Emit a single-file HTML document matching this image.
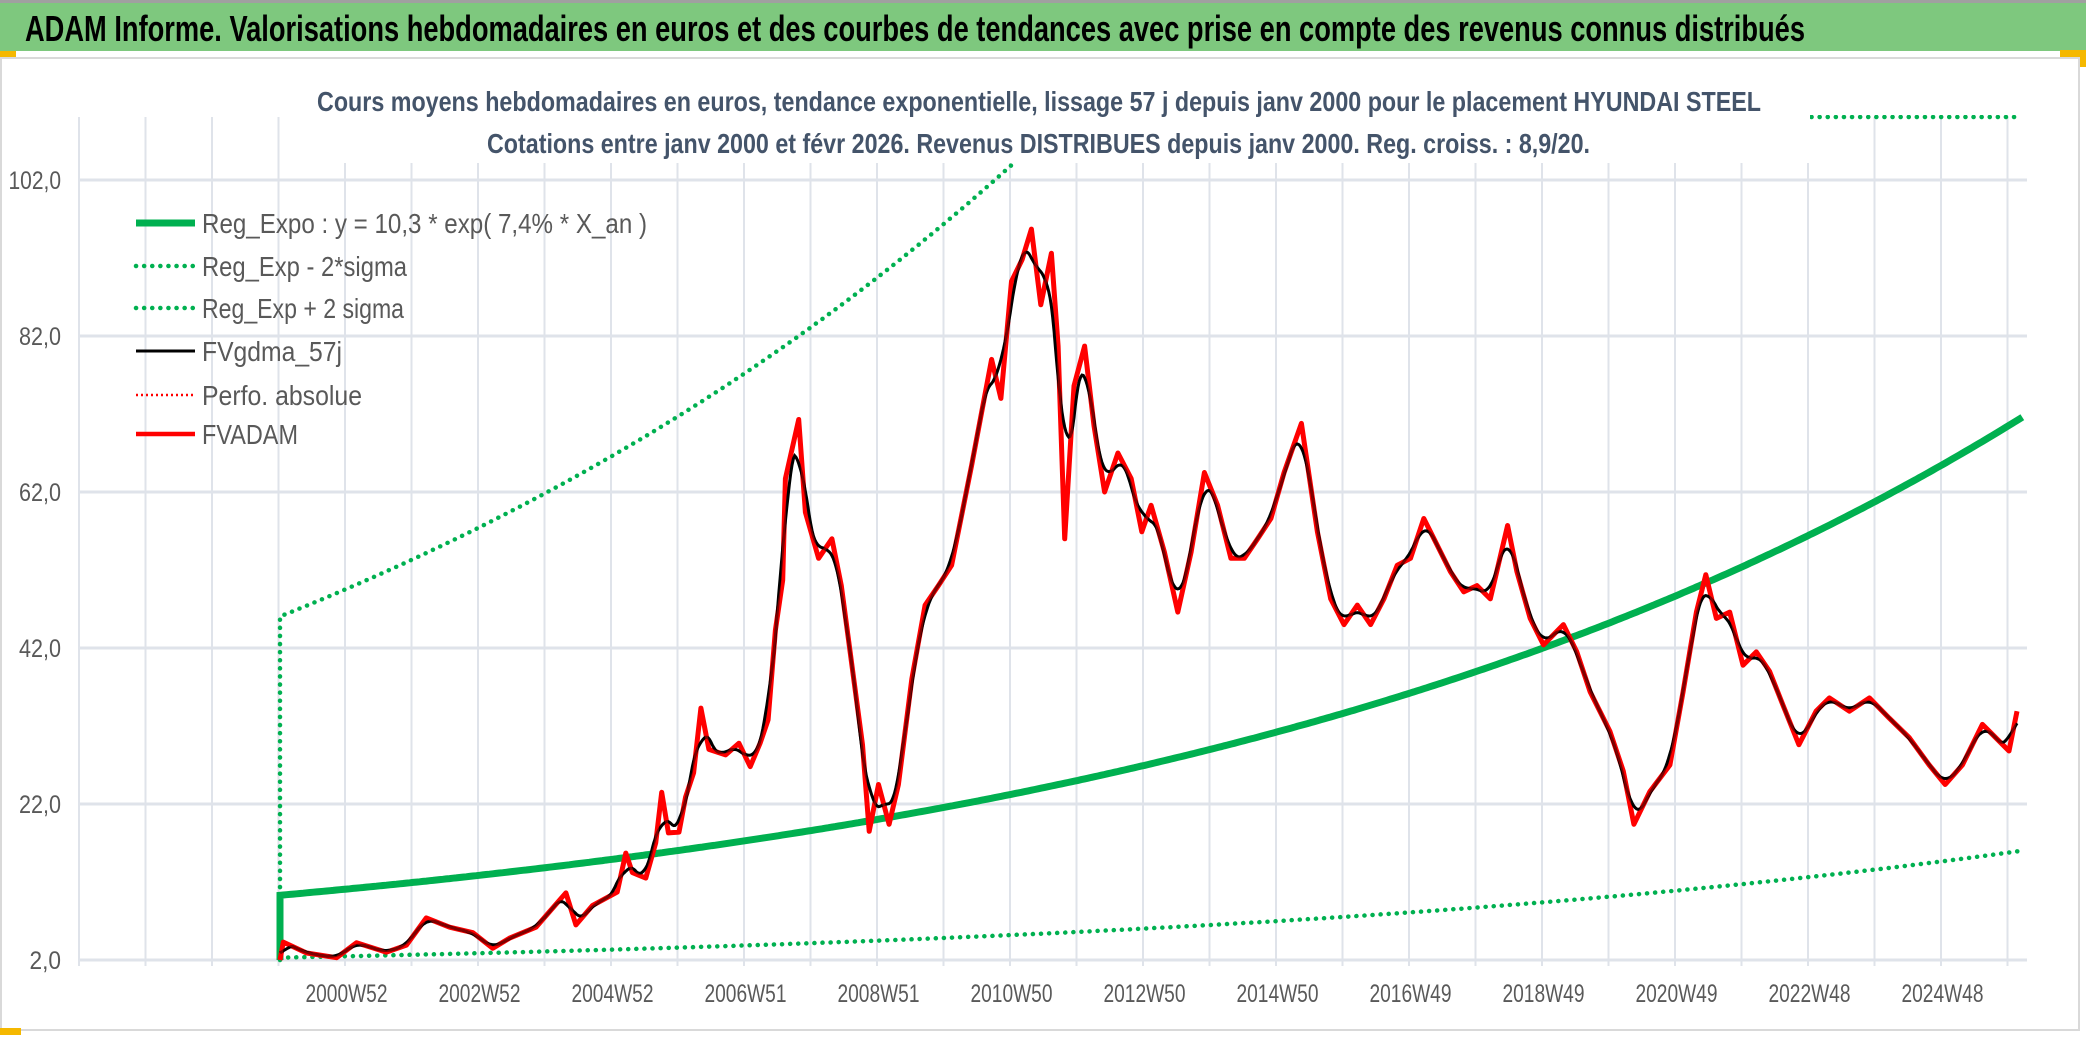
<!DOCTYPE html>
<html><head><meta charset="utf-8"><style>
html,body{margin:0;padding:0;background:#fff;}
svg{display:block;}
</style></head><body>
<svg id="chart" width="2086" height="1038" viewBox="0 0 2086 1038" xmlns="http://www.w3.org/2000/svg">
<rect x="0" y="0" width="2086" height="1038" fill="#fff"/>
<rect x="0" y="0" width="2086" height="3" fill="#a0a0a0"/>
<rect x="0" y="3" width="2086" height="48" fill="#7ec87e"/>
<text x="25" y="41" font-family="Liberation Sans, sans-serif" font-weight="bold" font-size="36" textLength="1780" lengthAdjust="spacingAndGlyphs" fill="#000">ADAM Informe. Valorisations hebdomadaires en euros et des courbes de tendances avec prise en compte des revenus connus distribués</text>
<rect x="0" y="51" width="16" height="7" fill="#f5b800"/>
<rect x="2060" y="50" width="26" height="17" fill="#f5b800"/>
<rect x="1" y="58" width="2078" height="972" fill="#fff" stroke="#d9d9d9" stroke-width="2"/>
<rect x="0" y="1028" width="21" height="7" fill="#f5b800"/>
<g id="grid"></g>
<g id="series" clip-path="url(#plotclip)"></g>
<defs><clipPath id="plotclip"><rect x="79" y="115" width="1950" height="850"/></clipPath></defs>
<rect x="300" y="85" width="1510" height="78" fill="#fff"/>
<text x="317" y="111" font-family="Liberation Sans, sans-serif" font-weight="bold" font-size="28" textLength="1444" lengthAdjust="spacingAndGlyphs" fill="#44546a">Cours moyens hebdomadaires en euros, tendance exponentielle, lissage 57 j depuis janv 2000 pour le placement HYUNDAI STEEL</text>
<text x="487" y="153" font-family="Liberation Sans, sans-serif" font-weight="bold" font-size="28" textLength="1103" lengthAdjust="spacingAndGlyphs" fill="#44546a">Cotations entre janv 2000 et févr 2026. Revenus DISTRIBUES depuis janv 2000. Reg. croiss. : 8,9/20.</text>
<g id="axes"></g>
<g id="legend"></g>
</svg>
<script>
const yTicks = [2, 22, 42, 62, 82, 102];
const yTickLabels = ["2,0", "22,0", "42,0", "62,0", "82,0", "102,0"];
const xLabelYears = [2001, 2003, 2005, 2007, 2009, 2011, 2013, 2015, 2017, 2019, 2021, 2023, 2025];
const xLabels = ["2000W52","2002W52","2004W52","2006W51","2008W51","2010W50","2012W50","2014W50","2016W49","2018W49","2020W49","2022W48","2024W48"];
const regA = 10.3;
const regRate = 0.074;
const sigmaFactor = 4.47;
const startYear = 2000;
const endYear = 2026.2;
const fvYears = [2000.0,2000.05,2000.4,2000.85,2001.15,2001.6,2001.9,2002.2,2002.55,2002.9,2003.2,2003.45,2003.85,2004.3,2004.45,2004.7,2005.07,2005.2,2005.3,2005.5,2005.65,2005.74,2005.84,2006.0,2006.1,2006.22,2006.33,2006.45,2006.7,2006.9,2007.07,2007.22,2007.34,2007.45,2007.56,2007.6,2007.8,2007.9,2008.1,2008.3,2008.44,2008.6,2008.76,2008.86,2009.0,2009.16,2009.3,2009.5,2009.7,2009.9,2010.1,2010.4,2010.7,2010.84,2011.0,2011.16,2011.3,2011.44,2011.6,2011.7,2011.8,2011.94,2012.1,2012.24,2012.4,2012.6,2012.8,2012.96,2013.1,2013.3,2013.5,2013.7,2013.9,2014.1,2014.3,2014.5,2014.7,2014.9,2015.1,2015.36,2015.6,2015.8,2016.0,2016.2,2016.4,2016.6,2016.8,2017.0,2017.2,2017.4,2017.6,2017.8,2018.0,2018.2,2018.46,2018.6,2018.8,2019.0,2019.3,2019.5,2019.7,2020.0,2020.2,2020.36,2020.6,2020.9,2021.1,2021.3,2021.44,2021.6,2021.8,2022.0,2022.2,2022.4,2022.6,2022.84,2023.1,2023.3,2023.6,2023.9,2024.2,2024.5,2024.8,2025.04,2025.3,2025.6,2025.8,2026.0,2026.12];
const fvValues = [2.0,4.3,2.9,2.3,4.2,3.0,3.9,7.4,6.2,5.5,3.5,4.8,6.2,10.6,6.5,9.0,10.7,15.7,13.2,12.5,17.0,23.5,18.3,18.4,22.9,26.0,34.3,29.0,28.3,29.8,26.8,29.8,32.8,44.3,50.7,63.7,71.3,59.4,53.5,56.0,50.0,39.8,29.6,18.5,24.5,19.4,24.5,38.0,47.5,50.0,52.6,65.4,79.0,74.0,89.0,91.8,95.7,86.0,92.6,80.7,56.0,75.6,80.7,70.5,62.0,67.0,63.7,56.9,60.3,54.3,46.6,54.3,64.5,60.3,53.5,53.5,56.0,58.6,64.5,70.8,56.9,48.3,45.0,47.5,45.0,48.3,52.6,53.5,58.6,55.2,51.8,49.2,50.0,48.3,57.7,51.8,45.8,42.4,45.0,41.5,36.4,31.3,26.2,19.4,23.6,27.0,36.4,46.6,51.4,45.8,46.6,39.8,41.5,39.0,34.7,29.6,33.9,35.6,33.9,35.6,33.0,30.5,27.0,24.5,27.0,32.2,30.5,28.8,33.9];

const NS = "http://www.w3.org/2000/svg";
const plotL = 79, plotR = 2027, plotTop = 117;
const xScale = y => 280 + (y - 2000) * 66.5;
const yScale = v => 960 - (v - 2) * 7.8;
function mk(tag, attrs, parent) {
  const e = document.createElementNS(NS, tag);
  for (const k in attrs) e.setAttribute(k, attrs[k]);
  parent.appendChild(e);
  return e;
}
const grid = document.getElementById('grid');
const axes = document.getElementById('axes');
const series = document.getElementById('series');
const legend = document.getElementById('legend');

for (let i = 0; i < 30; i++) {
  const x = plotL + i * 66.5;
  const l = mk('line', {x1: x, x2: x, y1: plotTop, y2: 966, stroke: '#dfe3ea', 'stroke-width': 2}, grid);
  
  
}
yTicks.forEach((v, i) => {
  const y = yScale(v);
  const l = mk('line', {x1: plotL, x2: plotR, y1: y, y2: y, stroke: '#dfe3ea', 'stroke-width': 3}, grid);
  
  
  const t = mk('text', {x: 61, y: y + 9, 'text-anchor': 'end', 'font-family': 'Liberation Sans, sans-serif', 'font-size': 25, fill: '#595959', textLength: yTickLabels[i].length * 10.5, lengthAdjust: 'spacingAndGlyphs'}, axes);
  t.textContent = yTickLabels[i];
  
  
});
xLabelYears.forEach((yr, i) => {
  const t = mk('text', {x: xScale(yr), y: 1002, 'text-anchor': 'middle', 'font-family': 'Liberation Sans, sans-serif', 'font-size': 25, fill: '#595959', textLength: 82, lengthAdjust: 'spacingAndGlyphs'}, axes);
  t.textContent = xLabels[i];
  
  
});

function pathFrom(pts) {
  return pts.map((p, i) => (i ? 'L' : 'M') + p[0].toFixed(1) + ' ' + p[1].toFixed(1)).join('');
}
const regPts = [], upPts = [], loPts = [];
regPts.push([xScale(startYear), yScale(2)]);
upPts.push([xScale(startYear), yScale(2)]);
for (let t = startYear; t <= endYear + 1e-9; t += 0.05) {
  const r = regA * Math.exp(regRate * (t - startYear));
  regPts.push([xScale(t), yScale(r)]);
  upPts.push([xScale(t), yScale(r * sigmaFactor)]);
  loPts.push([xScale(t), yScale(r / sigmaFactor)]);
}
const dotted = {fill: 'none', stroke: '#00b050', 'stroke-width': 4.5, 'stroke-linecap': 'round', 'stroke-dasharray': '0.1 8'};
const up = mk('path', Object.assign({d: pathFrom(upPts)}, dotted), series);


const lo = mk('path', Object.assign({d: pathFrom(loPts)}, dotted), series);


const seg = mk('path', Object.assign({d: 'M' + 1771 + ' ' + plotTop + 'L' + 2019 + ' ' + plotTop}, dotted), series);


const reg = mk('path', {d: pathFrom(regPts), fill: 'none', stroke: '#00b050', 'stroke-width': 7}, series);



const redPts = fvYears.map((y, i) => [xScale(y), yScale(fvValues[i])]);
function interp(t) {
  if (t <= fvYears[0]) return fvValues[0];
  for (let i = 1; i < fvYears.length; i++) {
    if (t <= fvYears[i]) {
      const f = (t - fvYears[i-1]) / (fvYears[i] - fvYears[i-1]);
      return fvValues[i-1] + f * (fvValues[i] - fvValues[i-1]);
    }
  }
  return fvValues[fvValues.length - 1];
}
const blackPts = [];
const last = fvYears[fvYears.length - 1];
for (let t = fvYears[0]; t <= last; t += 0.02) {
  let s = 0, n = 0;
  for (let d = -0.15; d <= 0.15; d += 0.01) {
    const tt = Math.min(Math.max(t + d, fvYears[0]), last);
    s += interp(tt); n++;
  }
  blackPts.push([xScale(t), yScale(s / n)]);
}
const red = mk('path', {d: pathFrom(redPts), fill: 'none', stroke: '#ff0000', 'stroke-width': 5, 'stroke-linejoin': 'round'}, series);


const blk = mk('path', {d: pathFrom(blackPts), fill: 'none', stroke: '#000', 'stroke-width': 3}, series);


const red2 = mk('path', {d: pathFrom(redPts), fill: 'none', stroke: '#ff0000', 'stroke-width': 3, 'stroke-linejoin': 'round', opacity: 0.5}, series);



const legendItems = [
  {label: 'Reg_Expo : y = 10,3 * exp( 7,4% *  X_an )', w: 445, y: 223, stroke: '#00b050', sw: 7, dash: null},
  {label: 'Reg_Exp - 2*sigma', w: 205, y: 266, stroke: '#00b050', sw: 4.5, dash: '0.1 8'},
  {label: 'Reg_Exp + 2 sigma', w: 202, y: 308, stroke: '#00b050', sw: 4.5, dash: '0.1 8'},
  {label: 'FVgdma_57j', w: 140, y: 351, stroke: '#000', sw: 3, dash: null},
  {label: 'Perfo. absolue', w: 160, y: 395, stroke: '#ff0000', sw: 2.5, dash: '2 3'},
  {label: 'FVADAM', w: 96, y: 434, stroke: '#ff0000', sw: 4.5, dash: null}
];
legendItems.forEach(it => {
  const g = mk('g', {}, legend);
  
  
  const a = {x1: 136, x2: 195, y1: it.y, y2: it.y, stroke: it.stroke, 'stroke-width': it.sw};
  if (it.dash) { a['stroke-dasharray'] = it.dash; if (it.dash === '0.1 8') a['stroke-linecap'] = 'round'; }
  const l = mk('line', a, g);
  
  
  const t = mk('text', {x: 202, y: it.y + 10, 'font-family': 'Liberation Sans, sans-serif', 'font-size': 28, fill: '#595959', textLength: it.w, lengthAdjust: 'spacingAndGlyphs'}, g);
  t.textContent = it.label;
  
  
});
</script>
</body></html>
